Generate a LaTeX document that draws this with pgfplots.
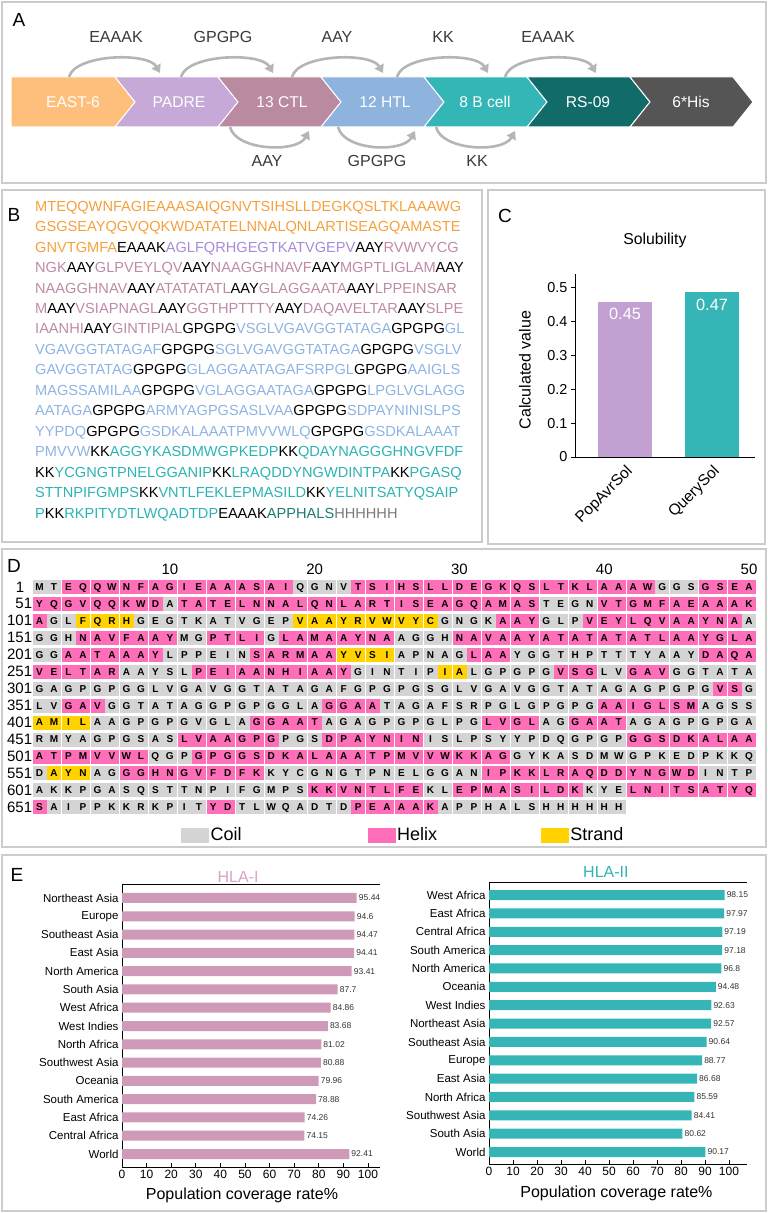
\documentclass[border=0pt]{standalone}
\usepackage{pgfplots}
\pgfplotsset{compat=1.18}
\usepackage{fontspec}
\setmainfont{Liberation Sans}
\usetikzlibrary{arrows.meta}
\newcommand{\fs}[1]{\fontsize{#1pt}{#1pt}\selectfont}
\definecolor{boxg}{HTML}{CCCCCC}
\definecolor{arcg}{HTML}{B5B5B5}
\definecolor{lnk}{HTML}{3A3A3A}
\definecolor{cEast}{HTML}{FEBF7C}
\definecolor{cPadre}{HTML}{C7A9D8}
\definecolor{cCtl}{HTML}{B98AA0}
\definecolor{cHtl}{HTML}{8EB3DD}
\definecolor{cBc}{HTML}{34B6B6}
\definecolor{cRs}{HTML}{116B69}
\definecolor{cHis}{HTML}{555555}
\definecolor{bO}{HTML}{F6A03C}
\definecolor{bP}{HTML}{A98AD6}
\definecolor{bM}{HTML}{BF8AA7}
\definecolor{bB}{HTML}{8DB4E2}
\definecolor{bT}{HTML}{2DB3B3}
\definecolor{bD}{HTML}{1C7B74}
\definecolor{bG}{HTML}{7A7A7A}
\definecolor{cPop}{HTML}{C3A0D2}
\definecolor{cQry}{HTML}{35B5B5}
\definecolor{coilg}{HTML}{D4D4D4}
\definecolor{helixp}{HTML}{FF6EB9}
\definecolor{strandy}{HTML}{FFD200}
\definecolor{barI}{HTML}{CF9AB7}
\definecolor{ttlI}{HTML}{D9A2C4}
\definecolor{barII}{HTML}{35B5B5}
\definecolor{ttlII}{HTML}{2FB4B4}
\definecolor{valg}{HTML}{333333}
\newcommand{\cO}[1]{\textcolor{bO}{#1}}
\newcommand{\cK}[1]{\textcolor{black}{#1}}
\newcommand{\cP}[1]{\textcolor{bP}{#1}}
\newcommand{\cM}[1]{\textcolor{bM}{#1}}
\newcommand{\cB}[1]{\textcolor{bB}{#1}}
\newcommand{\cT}[1]{\textcolor{bT}{#1}}
\newcommand{\cD}[1]{\textcolor{bD}{#1}}
\newcommand{\cG}[1]{\textcolor{bG}{#1}}
\pgfplotsset{resstyle/.style={only marks, mark=square*, mark size=6.5pt,
  mark options={draw=#1, fill=#1}, point meta=explicit symbolic, nodes near coords,
  every node near coord/.append style={anchor=center, font=\fs{10}\bfseries, inner sep=0pt,
    text height=7.16pt, text depth=0pt, text=black, fill=none, draw=none}}}

\begin{document}
\begin{tikzpicture}
\path[use as bounding box] (0pt,0pt) rectangle (768pt,1213pt);
% panel frames
\draw[boxg, line width=2pt] (2pt,1211pt) rectangle (766pt,1030pt);
\draw[boxg, line width=2pt] (2pt,1023pt) rectangle (482pt,671pt);
\draw[boxg, line width=2pt] (488pt,1023pt) rectangle (765pt,669pt);
\draw[boxg, line width=2pt] (2pt,664pt) rectangle (766pt,366pt);
\draw[boxg, line width=2pt] (2pt,358pt) rectangle (766pt,2pt);
% panel letters
\node[font=\fs{19}] at (19pt,1193pt) {A};
\node[font=\fs{19}] at (14pt,998pt) {B};
\node[font=\fs{19}] at (505pt,997pt) {C};
\node[font=\fs{19}] at (14pt,647pt) {D};
\node[font=\fs{19}] at (17pt,338pt) {E};

% ---------------- Panel B ----------------
\begin{scope}[every node/.style={anchor=base west, inner sep=0pt, font=\fs{14.6}}]
\node at (35pt,1001.8pt) {\cO{MTEQQWNFAGIEAAASAIQGNVTSIHSLLDEGKQSLTKLAAAWG}};
\node at (35pt,981.3pt) {\cO{GSGSEAYQGVQQKWDATATELNNALQNLARTISEAGQAMASTE}};
\node at (35pt,960.9pt) {\cO{GNVTGMFA}\cK{EAAAK}\cP{AGLFQRHGEGTKATVGEPV}\cK{AAY}\cM{RVWVYCG}};
\node at (35pt,940.4pt) {\cM{NGK}\cK{AAY}\cM{GLPVEYLQV}\cK{AAY}\cM{NAAGGHNAVF}\cK{AAY}\cM{MGPTLIGLAM}\cK{AAY}};
\node at (35pt,919.9pt) {\cM{NAAGGHNAV}\cK{AAY}\cM{ATATATATL}\cK{AAY}\cM{GLAGGAATA}\cK{AAY}\cM{LPPEINSAR}};
\node at (35pt,899.4pt) {\cM{M}\cK{AAY}\cM{VSIAPNAGL}\cK{AAY}\cM{GGTHPTTTY}\cK{AAY}\cM{DAQAVELTAR}\cK{AAY}\cM{SLPE}};
\node at (35pt,879.0pt) {\cM{IAANHI}\cK{AAY}\cM{GINTIPIAL}\cK{GPGPG}\cB{VSGLVGAVGGTATAGA}\cK{GPGPG}\cB{GL}};
\node at (35pt,858.5pt) {\cB{VGAVGGTATAGAF}\cK{GPGPG}\cB{SGLVGAVGGTATAGA}\cK{GPGPG}\cB{VSGLV}};
\node at (35pt,838.0pt) {\cB{GAVGGTATAG}\cK{GPGPG}\cB{GLAGGAATAGAFSRPGL}\cK{GPGPG}\cB{AAIGLS}};
\node at (35pt,817.6pt) {\cB{MAGSSAMILAA}\cK{GPGPG}\cB{VGLAGGAATAGA}\cK{GPGPG}\cB{LPGLVGLAGG}};
\node at (35pt,797.1pt) {\cB{AATAGA}\cK{GPGPG}\cB{ARMYAGPGSASLVAA}\cK{GPGPG}\cB{SDPAYNINISLPS}};
\node at (35pt,776.6pt) {\cB{YYPDQ}\cK{GPGPG}\cB{GSDKALAAATPMVVWLQ}\cK{GPGPG}\cB{GSDKALAAAT}};
\node at (35pt,756.2pt) {\cB{PMVVW}\cK{KK}\cT{AGGYKASDMWGPKEDP}\cK{KK}\cT{QDAYNAGGGHNGVFDF}};
\node at (35pt,735.7pt) {\cK{KK}\cT{YCGNGTPNELGGANIP}\cK{KK}\cT{LRAQDDYNGWDINTPA}\cK{KK}\cT{PGASQ}};
\node at (35pt,715.2pt) {\cT{STTNPIFGMPS}\cK{KK}\cT{VNTLFEKLEPMASILD}\cK{KK}\cT{YELNITSATYQSAIP}};
\node at (35pt,694.7pt) {\cT{P}\cK{KK}\cT{RKPITYDTLWQADTDP}\cK{EAAAK}\cD{APPHALS}\cG{HHHHHH}};
\end{scope}

% ---------------- Panel A ----------------
\begin{axis}[at={(0pt,1030pt)}, anchor=south west, scale only axis, width=768pt, height=183pt,
  xmin=0, xmax=768, ymin=0, ymax=183, y dir=reverse, hide axis, clip=false]
\addplot[fill=cEast, draw=white, line width=1pt, mark=none] coordinates {(11,77) (115,77) (135,102) (115,127) (11,127)} -- cycle;
\addplot[fill=cPadre, draw=white, line width=1pt, mark=none] coordinates {(115,77) (218,77) (238,102) (218,127) (115,127) (135,102)} -- cycle;
\addplot[fill=cCtl, draw=white, line width=1pt, mark=none] coordinates {(218,77) (321,77) (341,102) (321,127) (218,127) (238,102)} -- cycle;
\addplot[fill=cHtl, draw=white, line width=1pt, mark=none] coordinates {(321,77) (424,77) (444,102) (424,127) (321,127) (341,102)} -- cycle;
\addplot[fill=cBc, draw=white, line width=1pt, mark=none] coordinates {(424,77) (527,77) (547,102) (527,127) (424,127) (444,102)} -- cycle;
\addplot[fill=cRs, draw=white, line width=1pt, mark=none] coordinates {(527,77) (630,77) (650,102) (630,127) (527,127) (547,102)} -- cycle;
\addplot[fill=cHis, draw=white, line width=1pt, mark=none] coordinates {(630,77) (733,77) (753,102) (733,127) (630,127) (650,102)} -- cycle;
\node[white, font=\fs{15.6}] at (axis cs:73,102) {EAST-6};
\node[white, font=\fs{15.6}] at (axis cs:179,102) {PADRE};
\node[white, font=\fs{15.6}] at (axis cs:282,102) {13 CTL};
\node[white, font=\fs{15.6}] at (axis cs:385,102) {12 HTL};
\node[white, font=\fs{15.6}] at (axis cs:485,102) {8 B cell};
\node[white, font=\fs{15.6}] at (axis cs:588,102) {RS-09};
\node[white, font=\fs{15.6}] at (axis cs:691,102) {6*His};
\draw[arcg, line width=2.6pt, -{Triangle[length=8pt,width=10pt]}] (axis cs:69,77) .. controls (axis cs:75,54) and (axis cs:148,52) .. (axis cs:160,73);
\draw[arcg, line width=2.6pt, -{Triangle[length=8pt,width=10pt]}] (axis cs:181,77) .. controls (axis cs:187,54) and (axis cs:261,52) .. (axis cs:273,73);
\draw[arcg, line width=2.6pt, -{Triangle[length=8pt,width=10pt]}] (axis cs:292,77) .. controls (axis cs:298,54) and (axis cs:371,52) .. (axis cs:383,73);
\draw[arcg, line width=2.6pt, -{Triangle[length=8pt,width=10pt]}] (axis cs:397,77) .. controls (axis cs:403,54) and (axis cs:476,52) .. (axis cs:488,73);
\draw[arcg, line width=2.6pt, -{Triangle[length=8pt,width=10pt]}] (axis cs:505,77) .. controls (axis cs:511,54) and (axis cs:584,52) .. (axis cs:596,73);
\draw[arcg, line width=2.6pt, -{Triangle[length=8pt,width=10pt]}] (axis cs:230,127) .. controls (axis cs:236,151) and (axis cs:297,153) .. (axis cs:309,131);
\draw[arcg, line width=2.6pt, -{Triangle[length=8pt,width=10pt]}] (axis cs:338,127) .. controls (axis cs:344,151) and (axis cs:403,153) .. (axis cs:415,131);
\draw[arcg, line width=2.6pt, -{Triangle[length=8pt,width=10pt]}] (axis cs:436,127) .. controls (axis cs:442,151) and (axis cs:503,153) .. (axis cs:515,131);
\node[lnk, font=\fs{16}] at (axis cs:116,37) {EAAAK};
\node[lnk, font=\fs{16}] at (axis cs:223,37) {GPGPG};
\node[lnk, font=\fs{16}] at (axis cs:337,37) {AAY};
\node[lnk, font=\fs{16}] at (axis cs:443,37) {KK};
\node[lnk, font=\fs{16}] at (axis cs:548,37) {EAAAK};
\node[lnk, font=\fs{16}] at (axis cs:267,161) {AAY};
\node[lnk, font=\fs{16}] at (axis cs:377,161) {GPGPG};
\node[lnk, font=\fs{16}] at (axis cs:477,161) {KK};
\end{axis}

% ---------------- Panel C ----------------
\begin{axis}[at={(575pt,756pt)}, anchor=south west, scale only axis, width=180pt, height=183pt,
  xmin=-0.575, xmax=1.494, ymin=0, ymax=0.541,
  axis x line*=bottom, axis y line*=left, axis line style={line width=0.8pt},
  xtick={0,1}, xticklabels={PopAvrSol,QuerySol}, xtick style={draw=none},
  xticklabel style={rotate=45, anchor=north east, font=\fs{15.5}, inner sep=2pt},
  ytick={0,0.1,0.2,0.3,0.4,0.5}, yticklabel style={font=\fs{14.4}},
  /pgf/number format/assume math mode=true,
  tick align=outside, major tick length=4pt, ytick style={line width=0.8pt, black},
  ylabel={Calculated value}, ylabel style={at={(axis description cs:-0.278,0.475)}, anchor=center, font=\fs{16}},
  title={Solubility}, title style={at={(axis description cs:0.444,1.148)}, anchor=center, yshift=0pt, font=\fs{15.8}},
  clip=false]
\addplot[ybar, bar width=54pt, bar shift=0pt, fill=cPop, draw=none, point meta=explicit symbolic,
  nodes near coords, nodes near coords style={white, font=\fs{16.3}, anchor=north, yshift=-3pt}]
  coordinates {(0,0.458) [0.45]};
\addplot[ybar, bar width=54pt, bar shift=0pt, fill=cQry, draw=none, point meta=explicit symbolic,
  nodes near coords, nodes near coords style={white, font=\fs{16.3}, anchor=north, yshift=-3pt}]
  coordinates {(1,0.487) [0.47]};
\end{axis}

% ---------------- Panel D ----------------
\begin{axis}[at={(32.3pt,397.5pt)}, anchor=south west, scale only axis, width=724pt, height=237pt,
  xmin=0.5, xmax=50.5, ymin=-0.5, ymax=13.5, y dir=reverse,
  axis line style={draw=none}, tick style={draw=none},
  xtick={10,20,30,40,50}, xticklabel pos=right, xticklabel style={font=\fs{15}},
  ytick={0,1,2,3,4,5,6,7,8,9,10,11,12,13},
  yticklabels={{1\hspace*{8pt}},51,101,151,201,251,301,351,401,451,501,551,601,651},
  yticklabel style={font=\fs{15}, inner sep=0pt, anchor=east},
  /pgf/number format/assume math mode=true, clip=false,
  legend style={draw=none, fill=none, at={(axis cs:10.77,14.66)}, anchor=west,
    legend columns=3, inner sep=0pt, font=\fs{18},
    /tikz/column 2/.style={column sep=124pt}, /tikz/column 4/.style={column sep=102pt}},
  legend cell align=left]
\addlegendimage{legend image code/.code={\fill[coilg] (0pt,-7pt) rectangle (27pt,7pt);}}
\addlegendentry{Coil}
\addlegendimage{legend image code/.code={\fill[helixp] (0pt,-7pt) rectangle (27pt,7pt);}}
\addlegendentry{Helix}
\addlegendimage{legend image code/.code={\fill[strandy] (0pt,-7pt) rectangle (27pt,7pt);}}
\addlegendentry{Strand}
% Coil
\addplot[resstyle=coilg, forget plot] coordinates {
(1,0)[M] (2,0)[T] (19,0)[Q] (20,0)[G] (21,0)[N] (22,0)[V] (44,0)[G] (45,0)[G] (46,0)[S]
(10,1)[A] (36,1)[T] (37,1)[E] (38,1)[G] (39,1)[N]
(2,2)[G] (3,2)[L] (8,2)[G] (9,2)[E] (10,2)[G] (11,2)[T] (12,2)[K] (13,2)[A] (14,2)[T] (15,2)[V] (16,2)[G] (17,2)[E] (18,2)[P] (29,2)[G] (30,2)[N] (31,2)[G] (32,2)[K] (36,2)[G] (37,2)[L] (38,2)[P] (50,2)[A]
(1,3)[G] (2,3)[G] (3,3)[H] (11,3)[M] (12,3)[G] (17,3)[G] (26,3)[A] (27,3)[G] (28,3)[G] (29,3)[H]
(1,4)[G] (2,4)[G] (10,4)[L] (11,4)[P] (12,4)[P] (13,4)[E] (14,4)[I] (15,4)[N] (26,4)[A] (27,4)[P] (28,4)[N] (29,4)[A] (30,4)[G] (34,4)[Y] (35,4)[G] (36,4)[G] (37,4)[T] (38,4)[H] (39,4)[P] (40,4)[T] (41,4)[T] (42,4)[T] (43,4)[Y] (44,4)[A] (45,4)[A] (46,4)[Y]
(7,5)[A] (8,5)[A] (9,5)[Y] (10,5)[S] (11,5)[L] (23,5)[G] (24,5)[I] (25,5)[N] (26,5)[T] (27,5)[I] (28,5)[P] (31,5)[L] (32,5)[G] (33,5)[P] (34,5)[G] (35,5)[P] (36,5)[G] (40,5)[L] (41,5)[V] (45,5)[G] (46,5)[G] (47,5)[T] (48,5)[A] (49,5)[T] (50,5)[A]
(1,6)[G] (2,6)[A] (3,6)[G] (4,6)[P] (5,6)[G] (6,6)[P] (7,6)[G] (8,6)[G] (9,6)[L] (10,6)[V] (11,6)[G] (12,6)[A] (13,6)[V] (14,6)[G] (15,6)[G] (16,6)[T] (17,6)[A] (18,6)[T] (19,6)[A] (20,6)[G] (21,6)[A] (22,6)[F] (23,6)[G] (24,6)[P] (25,6)[G] (26,6)[P] (27,6)[G] (28,6)[S] (29,6)[G] (30,6)[L] (31,6)[V] (32,6)[G] (33,6)[A] (34,6)[V] (35,6)[G] (36,6)[G] (37,6)[T] (38,6)[A] (39,6)[T] (40,6)[A] (41,6)[G] (42,6)[A] (43,6)[G] (44,6)[P] (45,6)[G] (46,6)[P] (47,6)[G] (50,6)[G]
(1,7)[L] (2,7)[V] (6,7)[G] (7,7)[G] (8,7)[T] (9,7)[A] (10,7)[T] (11,7)[A] (12,7)[G] (13,7)[G] (14,7)[P] (15,7)[G] (16,7)[P] (17,7)[G] (18,7)[G] (19,7)[L] (20,7)[A] (25,7)[T] (26,7)[A] (27,7)[G] (28,7)[A] (29,7)[F] (30,7)[S] (31,7)[R] (32,7)[P] (33,7)[G] (34,7)[L] (35,7)[G] (36,7)[P] (37,7)[G] (38,7)[P] (39,7)[G] (47,7)[A] (48,7)[G] (49,7)[S] (50,7)[S]
(5,8)[A] (6,8)[A] (7,8)[G] (8,8)[P] (9,8)[G] (10,8)[P] (11,8)[G] (12,8)[V] (13,8)[G] (14,8)[L] (15,8)[A] (21,8)[A] (22,8)[G] (23,8)[A] (24,8)[G] (25,8)[P] (26,8)[G] (27,8)[P] (28,8)[G] (29,8)[L] (30,8)[P] (31,8)[G] (36,8)[A] (37,8)[G] (42,8)[A] (43,8)[G] (44,8)[A] (45,8)[G] (46,8)[P] (47,8)[G] (48,8)[P] (49,8)[G] (50,8)[A]
(1,9)[R] (2,9)[M] (3,9)[Y] (4,9)[A] (5,9)[G] (6,9)[P] (7,9)[G] (8,9)[S] (9,9)[A] (10,9)[S] (18,9)[P] (19,9)[G] (20,9)[S] (28,9)[I] (29,9)[S] (30,9)[L] (31,9)[P] (32,9)[S] (33,9)[Y] (34,9)[Y] (35,9)[P] (36,9)[D] (37,9)[Q] (38,9)[G] (39,9)[P] (40,9)[G] (41,9)[P]
(9,10)[Q] (10,10)[G] (11,10)[P] (34,10)[G] (35,10)[Y] (36,10)[K] (37,10)[A] (38,10)[S] (39,10)[D] (40,10)[M] (41,10)[W] (42,10)[G] (43,10)[P] (44,10)[K] (45,10)[E] (46,10)[D] (47,10)[P] (48,10)[K] (49,10)[K] (50,10)[Q]
(1,11)[D] (5,11)[A] (6,11)[G] (17,11)[K] (18,11)[Y] (19,11)[C] (20,11)[G] (21,11)[N] (22,11)[G] (23,11)[T] (24,11)[P] (25,11)[N] (26,11)[E] (27,11)[L] (28,11)[G] (29,11)[G] (30,11)[A] (31,11)[N] (47,11)[I] (48,11)[N] (49,11)[T] (50,11)[P]
(1,12)[A] (2,12)[K] (3,12)[K] (4,12)[P] (5,12)[G] (6,12)[A] (7,12)[S] (8,12)[Q] (9,12)[S] (10,12)[T] (11,12)[T] (12,12)[N] (13,12)[P] (14,12)[I] (15,12)[F] (16,12)[G] (17,12)[M] (18,12)[P] (19,12)[S] (28,12)[K] (29,12)[L] (39,12)[K] (40,12)[Y] (41,12)[E]
(2,13)[A] (3,13)[I] (4,13)[P] (5,13)[P] (6,13)[K] (7,13)[K] (8,13)[R] (9,13)[K] (10,13)[P] (11,13)[I] (12,13)[T] (15,13)[T] (16,13)[L] (17,13)[W] (18,13)[Q] (19,13)[A] (20,13)[D] (21,13)[T] (22,13)[D] (29,13)[A] (30,13)[P] (31,13)[P] (32,13)[H] (33,13)[A] (34,13)[L] (35,13)[S] (36,13)[H] (37,13)[H] (38,13)[H] (39,13)[H] (40,13)[H] (41,13)[H]
};
% Helix
\addplot[resstyle=helixp, forget plot] coordinates {
(3,0)[E] (4,0)[Q] (5,0)[Q] (6,0)[W] (7,0)[N] (8,0)[F] (9,0)[A] (10,0)[G] (11,0)[I] (12,0)[E] (13,0)[A] (14,0)[A] (15,0)[A] (16,0)[S] (17,0)[A] (18,0)[I] (23,0)[T] (24,0)[S] (25,0)[I] (26,0)[H] (27,0)[S] (28,0)[L] (29,0)[L] (30,0)[D] (31,0)[E] (32,0)[G] (33,0)[K] (34,0)[Q] (35,0)[S] (36,0)[L] (37,0)[T] (38,0)[K] (39,0)[L] (40,0)[A] (41,0)[A] (42,0)[A] (43,0)[W] (47,0)[G] (48,0)[S] (49,0)[E] (50,0)[A]
(1,1)[Y] (2,1)[Q] (3,1)[G] (4,1)[V] (5,1)[Q] (6,1)[Q] (7,1)[K] (8,1)[W] (9,1)[D] (11,1)[T] (12,1)[A] (13,1)[T] (14,1)[E] (15,1)[L] (16,1)[N] (17,1)[N] (18,1)[A] (19,1)[L] (20,1)[Q] (21,1)[N] (22,1)[L] (23,1)[A] (24,1)[R] (25,1)[T] (26,1)[I] (27,1)[S] (28,1)[E] (29,1)[A] (30,1)[G] (31,1)[Q] (32,1)[A] (33,1)[M] (34,1)[A] (35,1)[S] (40,1)[V] (41,1)[T] (42,1)[G] (43,1)[M] (44,1)[F] (45,1)[A] (46,1)[E] (47,1)[A] (48,1)[A] (49,1)[A] (50,1)[K]
(1,2)[A] (33,2)[A] (34,2)[A] (35,2)[Y] (39,2)[V] (40,2)[E] (41,2)[Y] (42,2)[L] (43,2)[Q] (44,2)[V] (45,2)[A] (46,2)[A] (47,2)[Y] (48,2)[N] (49,2)[A]
(4,3)[N] (5,3)[A] (6,3)[V] (7,3)[F] (8,3)[A] (9,3)[A] (10,3)[Y] (13,3)[P] (14,3)[T] (15,3)[L] (16,3)[I] (18,3)[L] (19,3)[A] (20,3)[M] (21,3)[A] (22,3)[A] (23,3)[Y] (24,3)[N] (25,3)[A] (30,3)[N] (31,3)[A] (32,3)[V] (33,3)[A] (34,3)[A] (35,3)[Y] (36,3)[A] (37,3)[T] (38,3)[A] (39,3)[T] (40,3)[A] (41,3)[T] (42,3)[A] (43,3)[T] (44,3)[L] (45,3)[A] (46,3)[A] (47,3)[Y] (48,3)[G] (49,3)[L] (50,3)[A]
(3,4)[A] (4,4)[A] (5,4)[T] (6,4)[A] (7,4)[A] (8,4)[A] (9,4)[Y] (16,4)[S] (17,4)[A] (18,4)[R] (19,4)[M] (20,4)[A] (21,4)[A] (31,4)[L] (32,4)[A] (33,4)[A] (47,4)[D] (48,4)[A] (49,4)[Q] (50,4)[A]
(1,5)[V] (2,5)[E] (3,5)[L] (4,5)[T] (5,5)[A] (6,5)[R] (12,5)[P] (13,5)[E] (14,5)[I] (15,5)[A] (16,5)[A] (17,5)[N] (18,5)[H] (19,5)[I] (20,5)[A] (21,5)[A] (22,5)[Y] (37,5)[V] (38,5)[S] (39,5)[G] (42,5)[G] (43,5)[A] (44,5)[V]
(48,6)[V] (49,6)[S]
(3,7)[G] (4,7)[A] (5,7)[V] (21,7)[G] (22,7)[G] (23,7)[A] (24,7)[A] (40,7)[A] (41,7)[A] (42,7)[I] (43,7)[G] (44,7)[L] (45,7)[S] (46,7)[M]
(16,8)[G] (17,8)[G] (18,8)[A] (19,8)[A] (20,8)[T] (32,8)[L] (33,8)[V] (34,8)[G] (35,8)[L] (38,8)[G] (39,8)[A] (40,8)[A] (41,8)[T]
(11,9)[L] (12,9)[V] (13,9)[A] (14,9)[A] (15,9)[G] (16,9)[P] (17,9)[G] (21,9)[D] (22,9)[P] (23,9)[A] (24,9)[Y] (25,9)[N] (26,9)[I] (27,9)[N] (42,9)[G] (43,9)[G] (44,9)[S] (45,9)[D] (46,9)[K] (47,9)[A] (48,9)[L] (49,9)[A] (50,9)[A]
(1,10)[A] (2,10)[T] (3,10)[P] (4,10)[M] (5,10)[V] (6,10)[V] (7,10)[W] (8,10)[L] (12,10)[G] (13,10)[P] (14,10)[G] (15,10)[G] (16,10)[S] (17,10)[D] (18,10)[K] (19,10)[A] (20,10)[L] (21,10)[A] (22,10)[A] (23,10)[A] (24,10)[T] (25,10)[P] (26,10)[M] (27,10)[V] (28,10)[V] (29,10)[W] (30,10)[K] (31,10)[K] (32,10)[A] (33,10)[G]
(7,11)[G] (8,11)[G] (9,11)[H] (10,11)[N] (11,11)[G] (12,11)[V] (13,11)[F] (14,11)[D] (15,11)[F] (16,11)[K] (32,11)[I] (33,11)[P] (34,11)[K] (35,11)[K] (36,11)[L] (37,11)[R] (38,11)[A] (39,11)[Q] (40,11)[D] (41,11)[D] (42,11)[Y] (43,11)[N] (44,11)[G] (45,11)[W] (46,11)[D]
(20,12)[K] (21,12)[K] (22,12)[V] (23,12)[N] (24,12)[T] (25,12)[L] (26,12)[F] (27,12)[E] (30,12)[E] (31,12)[P] (32,12)[M] (33,12)[A] (34,12)[S] (35,12)[I] (36,12)[L] (37,12)[D] (38,12)[K] (42,12)[L] (43,12)[N] (44,12)[I] (45,12)[T] (46,12)[S] (47,12)[A] (48,12)[T] (49,12)[Y] (50,12)[Q]
(1,13)[S] (13,13)[Y] (14,13)[D] (23,13)[P] (24,13)[E] (25,13)[A] (26,13)[A] (27,13)[A] (28,13)[K]
};
% Strand
\addplot[resstyle=strandy, forget plot] coordinates {
(4,2)[F] (5,2)[Q] (6,2)[R] (7,2)[H] (19,2)[V] (20,2)[A] (21,2)[A] (22,2)[Y] (23,2)[R] (24,2)[V] (25,2)[W] (26,2)[V] (27,2)[Y] (28,2)[C]
(22,4)[Y] (23,4)[V] (24,4)[S] (25,4)[I]
(29,5)[I] (30,5)[A]
(1,8)[A] (2,8)[M] (3,8)[I] (4,8)[L]
(2,11)[A] (3,11)[Y] (4,11)[N]
};
\end{axis}

% ---------------- Panel E left ----------------
\begin{axis}[at={(122pt,46pt)}, anchor=south west, scale only axis, width=258pt, height=283pt,
  xmin=0, xmax=104.9, ymin=-0.765, ymax=14.71, y dir=reverse,
  axis x line*=box, axis y line*=left, axis line style={line width=0.8pt},
  xtick={0,10,20,30,40,50,60,70,80,90,100}, xtick pos=left, xticklabel style={font=\fs{12}},
  tick align=inside, major tick length=4pt, xtick style={black, line width=0.6pt},
  ytick={0,1,2,3,4,5,6,7,8,9,10,11,12,13,14},
  yticklabels={Northeast Asia,Europe,Southeast Asia,East Asia,North America,South Asia,West Africa,West Indies,North Africa,Southwest Asia,Oceania,South America,East Africa,Central Africa,World},
  ytick style={draw=none}, yticklabel style={font=\fs{11.5}},
  xlabel={Population coverage rate\%}, xlabel style={at={(axis description cs:0.465,-0.099)}, anchor=center, font=\fs{16}},
  title={HLA-I}, title style={at={(axis description cs:0.45,1.004)}, anchor=center, yshift=0pt, font=\fs{16}, color=ttlI},
  /pgf/number format/assume math mode=true, clip=false]
\addplot[xbar, bar width=10pt, fill=barI, draw=none, point meta=x,
  nodes near coords, nodes near coords style={font=\fs{8.5}, color=valg, anchor=west, inner sep=2pt}]
  coordinates {(95.44,0) (94.6,1) (94.47,2) (94.41,3) (93.41,4) (87.7,5) (84.86,6) (83.68,7) (81.02,8) (80.88,9) (79.96,10) (78.88,11) (74.26,12) (74.15,13) (92.41,14)};
\end{axis}

% ---------------- Panel E right ----------------
\begin{axis}[at={(489pt,49pt)}, anchor=south west, scale only axis, width=258pt, height=282pt,
  xmin=0, xmax=107.5, ymin=-0.71, ymax=14.65, y dir=reverse,
  axis x line*=box, axis y line*=left, axis line style={line width=0.8pt},
  xtick={0,10,20,30,40,50,60,70,80,90,100}, xtick pos=left, xticklabel style={font=\fs{12}},
  tick align=inside, major tick length=4pt, xtick style={black, line width=0.6pt},
  ytick={0,1,2,3,4,5,6,7,8,9,10,11,12,13,14},
  yticklabels={West Africa,East Africa,Central Africa,South America,North America,Oceania,West Indies,Northeast Asia,Southeast Asia,Europe,East Asia,North Africa,Southwest Asia,South Asia,World},
  ytick style={draw=none}, yticklabel style={font=\fs{11.5}},
  xlabel={Population coverage rate\%}, xlabel style={at={(axis description cs:0.494,-0.103)}, anchor=center, font=\fs{16}},
  title={HLA-II}, title style={at={(axis description cs:0.453,1.015)}, anchor=center, yshift=0pt, font=\fs{16}, color=ttlII},
  /pgf/number format/assume math mode=true, clip=false]
\addplot[xbar, bar width=10pt, fill=barII, draw=none, point meta=x,
  nodes near coords, nodes near coords style={font=\fs{8.5}, color=valg, anchor=west, inner sep=2pt}]
  coordinates {(98.15,0) (97.97,1) (97.19,2) (97.18,3) (96.8,4) (94.48,5) (92.63,6) (92.57,7) (90.64,8) (88.77,9) (86.68,10) (85.59,11) (84.41,12) (80.62,13) (90.17,14)};
\end{axis}
\end{tikzpicture}
\end{document}
